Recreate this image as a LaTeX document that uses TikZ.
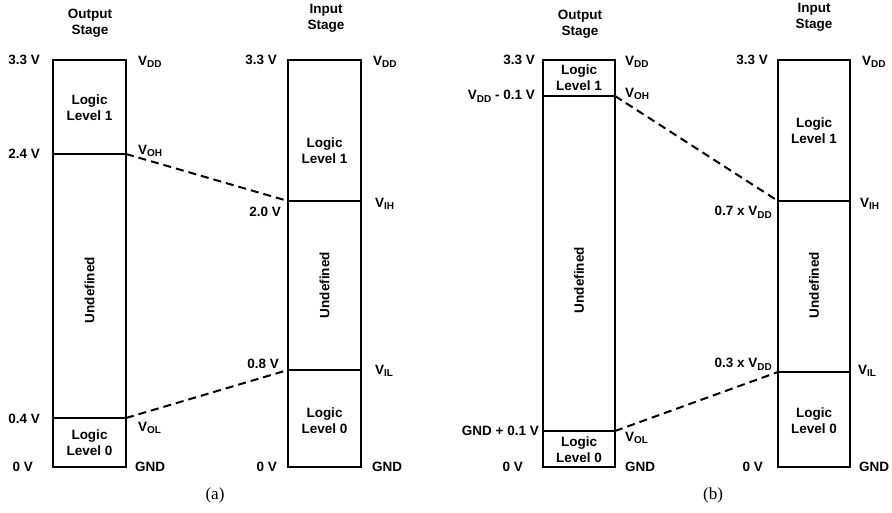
\documentclass[tikz,border=0pt]{standalone}
\usepackage{fontspec}
\setmainfont{Liberation Sans}
\newfontfamily\capfont{Liberation Serif}
\newcommand{\Vs}[1]{V\raisebox{-2.6pt}{\fontsize{10}{10}\selectfont\bfseries #1}}
\begin{document}
\begin{tikzpicture}[x=1pt,y=-1pt,
  lbl/.style={font=\fontsize{13.5}{16}\selectfont\bfseries, inner sep=0pt, align=center},
  boxline/.style={line width=2pt},
  levelline/.style={line width=2pt},
  dashline/.style={line width=2pt, dash pattern=on 8pt off 5pt},
  captxt/.style={font=\capfont\fontsize{17}{20}\selectfont, inner sep=0pt}]
\useasboundingbox (0,0) rectangle (892,512);

% ===================== Panel (a) =====================
% Output stage box
\coordinate (aoTL) at (53,60);  \coordinate (aoBR) at (126,467);
\coordinate (aoHL) at (53,154); \coordinate (aoHR) at (126,154);
\coordinate (aoLL) at (53,418); \coordinate (aoLR) at (126,418);
\draw[boxline] (aoTL) rectangle (aoBR);
\draw[levelline] (aoHL) -- (aoHR);
\draw[levelline] (aoLL) -- (aoLR);
\node[lbl] (aoTitle) at (90,23) {Output\\Stage};
\node[lbl, anchor=east] (ao33) at (40,60) {3.3 V};
\node[lbl, anchor=east] (ao24) at (40,154) {2.4 V};
\node[lbl, anchor=east] (ao04) at (40,419) {0.4 V};
\node[lbl, anchor=east] (ao0) at (33,467) {0 V};
\node[lbl, anchor=west] (aoVDD) at (138,62) {\Vs{DD}};
\node[lbl, anchor=west] (aoVOH) at (138,151) {\Vs{OH}};
\node[lbl, anchor=west] (aoVOL) at (138,428) {\Vs{OL}};
\node[lbl, anchor=west] (aoGND) at (135,467) {GND};
\node[lbl] (aoL1) at (89.5,108) {Logic\\Level 1};
\node[lbl, rotate=90] (aoU) at (89.5,290) {Undefined};
\node[lbl] (aoL0) at (89.5,443) {Logic\\Level 0};

% Input stage box
\coordinate (aiTL) at (288,60);  \coordinate (aiBR) at (361,467);
\coordinate (aiHL) at (288,201); \coordinate (aiHR) at (361,201);
\coordinate (aiLL) at (288,370); \coordinate (aiLR) at (361,370);
\draw[boxline] (aiTL) rectangle (aiBR);
\draw[levelline] (aiHL) -- (aiHR);
\draw[levelline] (aiLL) -- (aiLR);
\node[lbl] (aiTitle) at (326,18) {Input\\Stage};
\node[lbl, anchor=east] (ai33) at (277,60) {3.3 V};
\node[lbl, anchor=east] (ai20) at (281,212) {2.0 V};
\node[lbl, anchor=east] (ai08) at (279,364) {0.8 V};
\node[lbl, anchor=east] (ai0) at (277,467) {0 V};
\node[lbl, anchor=west] (aiVDD) at (373,62) {\Vs{DD}};
\node[lbl, anchor=west] (aiVIH) at (375,204) {\Vs{IH}};
\node[lbl, anchor=west] (aiVIL) at (375,371) {\Vs{IL}};
\node[lbl, anchor=west] (aiGND) at (372,467) {GND};
\node[lbl] (aiL1) at (324.5,151) {Logic\\Level 1};
\node[lbl, rotate=90] (aiU) at (324.5,285) {Undefined};
\node[lbl] (aiL0) at (324.5,421) {Logic\\Level 0};

\draw[dashline] (aoHR) -- (aiHL);
\draw[dashline] (aoLR) -- (aiLL);
\node[captxt] (capa) at (215,495) {(a)};

% ===================== Panel (b) =====================
\coordinate (boTL) at (543,60);  \coordinate (boBR) at (615,467);
\coordinate (boHL) at (543,96);  \coordinate (boHR) at (615,96);
\coordinate (boLL) at (543,431); \coordinate (boLR) at (615,431);
\draw[boxline] (boTL) rectangle (boBR);
\draw[levelline] (boHL) -- (boHR);
\draw[levelline] (boLL) -- (boLR);
\node[lbl] (boTitle) at (580,24) {Output\\Stage};
\node[lbl, anchor=east] (bo33) at (535,60) {3.3 V};
\node[lbl, anchor=east] (boVm) at (535,96) {\Vs{DD} - 0.1 V};
\node[lbl, anchor=east] (boGp) at (539,431) {GND + 0.1 V};
\node[lbl, anchor=east] (bo0) at (523,467) {0 V};
\node[lbl, anchor=west] (boVDD) at (625,62) {\Vs{DD}};
\node[lbl, anchor=west] (boVOH) at (625,94) {\Vs{OH}};
\node[lbl, anchor=west] (boVOL) at (625,438) {\Vs{OL}};
\node[lbl, anchor=west] (boGND) at (625,467) {GND};
\node[lbl] (boL1) at (579,78) {Logic\\Level 1};
\node[lbl, rotate=90] (boU) at (579,280) {Undefined};
\node[lbl] (boL0) at (579,450) {Logic\\Level 0};

\coordinate (biTL) at (778,60);  \coordinate (biBR) at (850,467);
\coordinate (biHL) at (778,201); \coordinate (biHR) at (850,201);
\coordinate (biLL) at (778,372); \coordinate (biLR) at (850,372);
\draw[boxline] (biTL) rectangle (biBR);
\draw[levelline] (biHL) -- (biHR);
\draw[levelline] (biLL) -- (biLR);
\node[lbl] (biTitle) at (814,17) {Input\\Stage};
\node[lbl, anchor=east] (bi33) at (768,60) {3.3 V};
\node[lbl, anchor=east] (bi07) at (772,212) {0.7 x \Vs{DD}};
\node[lbl, anchor=east] (bi03) at (772,364) {0.3 x \Vs{DD}};
\node[lbl, anchor=east] (bi0) at (763,467) {0 V};
\node[lbl, anchor=west] (biVDD) at (862,62) {\Vs{DD}};
\node[lbl, anchor=west] (biVIH) at (860,204) {\Vs{IH}};
\node[lbl, anchor=west] (biVIL) at (858,371) {\Vs{IL}};
\node[lbl, anchor=west] (biGND) at (859,467) {GND};
\node[lbl] (biL1) at (814,131) {Logic\\Level 1};
\node[lbl, rotate=90] (biU) at (814,285) {Undefined};
\node[lbl] (biL0) at (814,421) {Logic\\Level 0};

\draw[dashline] (boHR) -- (biHL);
\draw[dashline] (boLR) -- (biLL);
\node[captxt] (capb) at (713,495) {(b)};
\end{tikzpicture}
\end{document}
